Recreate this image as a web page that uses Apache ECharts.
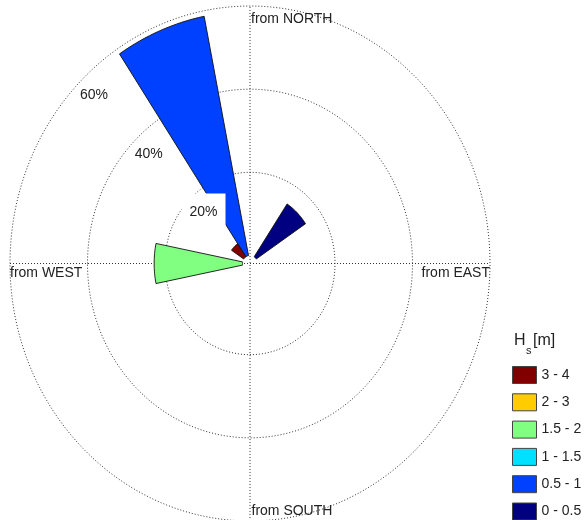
<!DOCTYPE html>
<html><head><meta charset="utf-8">
<script src="https://cdn.jsdelivr.net/npm/echarts@6/dist/echarts.min.js"></script>
<style>html,body{margin:0;padding:0;background:#fff}#c{width:585px;height:520px}</style>
</head><body><div id="c"></div>
<script>
// ---------------- data ----------------
const directions = ['N','NNE','NE','ENE','E','ESE','SE','SSE','S','SSW','SW','WSW','W','WNW','NW','NNW'];
const directionAngles = [0,22.5,45,67.5,90,112.5,135,157.5,180,202.5,225,247.5,270,292.5,315,337.5];
const binLabels = ['0 - 0.5','0.5 - 1','1 - 1.5','1.5 - 2','2 - 3','3 - 4'];
const binColors = ['#000080','#0040ff','#00e0ff','#80ff80','#ffcc00','#800000'];
//                   N  NNE  NE   ENE E  ESE SE SSE S SSW SW WSW W    WNW NW   NNW
const freq_0_05  = [0, 0,   15.3, 0, 0, 0,  0, 0,  0, 0, 0, 0,  0,    0,  0,   0];
const freq_05_1  = [0, 0,   0,    0, 0, 0,  0, 0,  0, 0, 0, 0,  0,    0,  0,   58.7];
const freq_1_15  = [0, 0,   0,    0, 0, 0,  0, 0,  0, 0, 0, 0,  0,    0,  0,   0];
const freq_15_2  = [0, 0,   0,    0, 0, 0,  0, 0,  0, 0, 0, 0,  22.8, 0,  0,   0];
const freq_2_3   = [0, 0,   0,    0, 0, 0,  0, 0,  0, 0, 0, 0,  0,    0,  0,   0];
const freq_3_4   = [0, 0,   0,    0, 0, 0,  0, 0,  0, 0, 0, 0,  0,    0,  3.8, 0];
const ringValues = [20, 40, 60];
const ringLabels = ['20%', '40%', '60%'];
const compassAngles = [0, 90, 180, 270];
const compassLabels = ['from NORTH', 'from EAST', 'from SOUTH', 'from WEST'];
const legendTitle = ['H', 's', '[m]'];

// ---------------- layout ----------------
const FONT = "'Liberation Sans', Arial, Helvetica, sans-serif";
const CX = 250, CY = 263.5;        // rose centre (px)
const KX = 3.875, KY = 4.157;      // px per percent (horizontal / vertical)
const ZERO_OFFSET = 1.935;         // radius (in %) where 0 % sits
const SECTOR = 22.5;
const R_OUT = ringValues[ringValues.length - 1] + ZERO_OFFSET;
const LABEL_ANGLE = 315;
const LABEL_PADDING = [[12, 8, 12, 8], [3, 3, 3, 3], [3, 3, 3, 3]];

function polarToXY(r, deg) {
  const a = deg * Math.PI / 180;
  return [r * Math.sin(a), r * Math.cos(a)];
}

const binSeries = [freq_0_05, freq_05_1, freq_1_15, freq_15_2, freq_2_3, freq_3_4];
const cum = directions.map(() => 0);
const wedgeSeries = binSeries.map((vals, i) => {
  const data = vals.map((v, j) => {
    const b = cum[j];
    cum[j] = b + v;
    return [directionAngles[j], b, b + v];
  });
  return {
    type: 'custom', name: binLabels[i], coordinateSystem: 'cartesian2d',
    itemStyle: { color: binColors[i] }, z: 5, clip: false,
    data: data,
    renderItem: function (params, api) {
      const ang = api.value(0), base = api.value(1), top = api.value(2);
      if (!(top > base)) return null;
      const r0 = base + ZERO_OFFSET, r1 = top + ZERO_OFFSET;
      const a0 = ang - SECTOR / 2, a1 = ang + SECTOR / 2;
      const n = 16, pts = [];
      for (let k = 0; k <= n; k++) pts.push(api.coord(polarToXY(r1, a0 + (a1 - a0) * k / n)));
      for (let k = n; k >= 0; k--) pts.push(api.coord(polarToXY(r0, a0 + (a1 - a0) * k / n)));
      return { type: 'polygon', shape: { points: pts },
        style: { fill: api.visual('color'), stroke: '#111', lineWidth: 0.9 } };
    }
  };
});

const gridSeries = [
  { // rings
    type: 'custom', coordinateSystem: 'cartesian2d', silent: true, z: 1, clip: false,
    data: ringValues.map(v => [v]),
    renderItem: function (params, api) {
      const r = api.value(0) + ZERO_OFFSET;
      const c = api.coord([0, 0]);
      const s = api.size([r, r]);
      return { type: 'ellipse', shape: { cx: c[0], cy: c[1], rx: s[0], ry: s[1] },
        style: { fill: 'none', stroke: '#333', lineWidth: 1, lineDash: [1, 2] } };
    }
  },
  { // spokes
    type: 'custom', coordinateSystem: 'cartesian2d', silent: true, z: 1, clip: false,
    data: [[0], [90]],
    renderItem: function (params, api) {
      const a = api.value(0);
      const p1 = api.coord(polarToXY(R_OUT, a + 180));
      const p2 = api.coord(polarToXY(R_OUT, a));
      return { type: 'line', shape: { x1: p1[0], y1: p1[1], x2: p2[0], y2: p2[1] },
        style: { stroke: '#333', lineWidth: 1, lineDash: [1, 2] } };
    }
  },
  { // ring labels
    type: 'custom', coordinateSystem: 'cartesian2d', silent: true, z: 10, clip: false,
    data: ringValues.map((v, i) => [v, i]),
    renderItem: function (params, api) {
      const i = api.value(1);
      const r = api.value(0) + ZERO_OFFSET - 4.6;
      const p = api.coord(polarToXY(r, LABEL_ANGLE));
      return { type: 'text', x: p[0] + 1, y: p[1],
        style: { text: ringLabels[i], font: '14px ' + FONT, fill: '#222',
          align: 'center', verticalAlign: 'middle', backgroundColor: '#fff', padding: LABEL_PADDING[i] } };
    }
  },
  { // compass labels
    type: 'custom', coordinateSystem: 'cartesian2d', silent: true, z: 10, clip: false,
    data: compassAngles.map((a, i) => [a, i]),
    renderItem: function (params, api) {
      const a = api.value(0), i = api.value(1);
      const p = api.coord(polarToXY(R_OUT, a));
      let x = p[0], y = p[1], align = 'left';
      if (a === 0) { x += 1; y += 13; }
      else if (a === 90) { align = 'right'; y += 10; }
      else if (a === 180) { x += 1.5; y -= 10; }
      else { y += 10; }
      return { type: 'text', x: x, y: y,
        style: { text: compassLabels[i], font: '14px ' + FONT, fill: '#222',
          align: align, verticalAlign: 'middle' } };
    }
  }
];

const chart = echarts.init(document.getElementById('c'), null, { renderer: 'canvas' });
chart.setOption({
  animation: false,
  backgroundColor: '#fff',
  grid: { left: CX - 20 * KX, top: CY - 20 * KY, width: 40 * KX, height: 40 * KY, containLabel: false },
  xAxis: { type: 'value', min: -20, max: 20, show: false },
  yAxis: { type: 'value', min: -20, max: 20, show: false },
  legend: {
    data: binLabels.slice().reverse(), orient: 'vertical', left: 512, top: 366, padding: 0,
    width: 73, height: 200,
    itemWidth: 24, itemHeight: 17, itemGap: 9.3, icon: 'rect', selectedMode: false,
    itemStyle: { borderColor: '#444', borderWidth: 1 },
    textStyle: { fontFamily: FONT, fontSize: 14, color: '#222' }
  },
  graphic: [
    { type: 'text', left: 514, top: 333, style: { text: legendTitle[0], font: '16px ' + FONT, fill: '#222' } },
    { type: 'text', left: 526, top: 345, style: { text: legendTitle[1], font: '11px ' + FONT, fill: '#222' } },
    { type: 'text', left: 533, top: 333, style: { text: legendTitle[2], font: '16px ' + FONT, fill: '#222' } }
  ],
  series: gridSeries.concat(wedgeSeries)
});
</script></body></html>
